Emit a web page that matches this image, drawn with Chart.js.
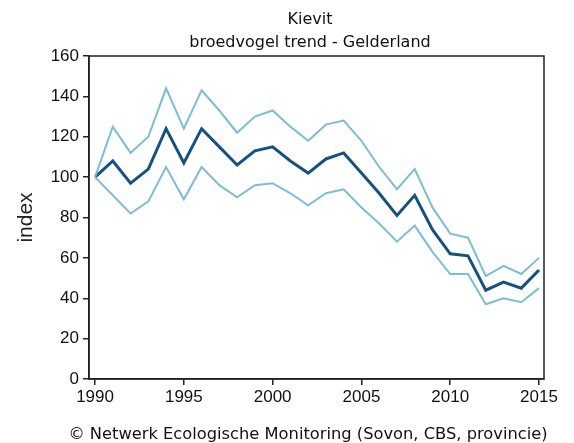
<!DOCTYPE html>
<html>
<head>
<meta charset="utf-8">
<script src="https://cdn.jsdelivr.net/npm/chart.js@4/dist/chart.umd.min.js"></script>
<style>
  html, body { margin: 0; padding: 0; background: #ffffff; }
  #wrap { width: 574px; height: 443px; }
</style>
</head>
<body>
<div id="wrap"><canvas id="c" width="574" height="443"></canvas></div>
<script>
// Kievit (lapwing) breeding index, Gelderland, 1990 = 100
const years = [1990, 1991, 1992, 1993, 1994, 1995, 1996, 1997, 1998, 1999, 2000, 2001, 2002,
               2003, 2004, 2005, 2006, 2007, 2008, 2009, 2010, 2011, 2012, 2013, 2014, 2015];
const trendIndex = [100, 108, 97, 104, 124, 107, 124, 115, 106, 113, 115, 108, 102,
                    109, 112, 102, 92, 81, 91, 74, 62, 61, 44, 48, 45, 54];
const upperBound = [100, 125, 112, 120, 144, 124, 143, 133, 122, 130, 133, 125, 118,
                    126, 128, 118, 105, 94, 104, 85, 72, 70, 51, 56, 52, 60];
const lowerBound = [100, 91, 82, 88, 105, 89, 105, 96, 90, 96, 97, 92, 86,
                    92, 94, 85, 77, 68, 76, 63, 52, 52, 37, 40, 38, 45];
const xTicks = [1990, 1995, 2000, 2005, 2010, 2015];
const yTicks = [0, 20, 40, 60, 80, 100, 120, 140, 160];
const titleLines = ['Kievit', 'broedvogel trend - Gelderland'];
const footerText = '\u00A9 Netwerk Ecologische Monitoring (Sovon, CBS, provincie)';

const pts = arr => years.map((yr, i) => ({ x: yr, y: arr[i] }));

const LIGHT = '#7dbcd6';
const DARK = '#14527f';
const AXIS = '#222222';

// Frame around the plot area plus title and credit line
const decorations = {
  id: 'decorations',
  afterDraw(chart) {
    const { ctx, chartArea: a } = chart;
    ctx.save();
    ctx.strokeStyle = AXIS;
    ctx.lineWidth = 1.5;
    ctx.strokeRect(a.left, a.top, a.right - a.left, a.bottom - a.top);
    ctx.fillStyle = '#111111';
    ctx.textAlign = 'center';
    ctx.textBaseline = 'alphabetic';
    ctx.font = '16px "DejaVu Sans"';
    ctx.fillText(titleLines[0], 310, 24);
    ctx.fillText(titleLines[1], 310, 47);
    ctx.font = '16.3px "DejaVu Sans"';
    ctx.fillText(footerText, 308, 439);
    ctx.restore();
  }
};

new Chart(document.getElementById('c'), {
  type: 'line',
  data: {
    datasets: [
      { data: pts(upperBound), borderColor: LIGHT, borderWidth: 2 },
      { data: pts(lowerBound), borderColor: LIGHT, borderWidth: 2 },
      { data: pts(trendIndex), borderColor: DARK, borderWidth: 3 }
    ]
  },
  options: {
    responsive: false,
    animation: false,
    devicePixelRatio: 1,
    layout: { padding: { top: 56, right: 30, left: 0, bottom: 0 } },
    elements: {
      point: { radius: 0, hoverRadius: 0 },
      line: { tension: 0, fill: false, borderJoinStyle: 'miter' }
    },
    plugins: {
      legend: { display: false },
      tooltip: { enabled: false },
      title: { display: false }
    },
    scales: {
      x: {
        type: 'linear',
        min: 1989.66,
        max: 2015.28,
        afterBuildTicks: s => { s.ticks = xTicks.map(v => ({ value: v })); },
        afterFit: s => { s.height = 64; },
        grid: { display: true, drawOnChartArea: false, drawTicks: true, tickLength: 6, color: AXIS, lineWidth: 1.5 },
        border: { display: true, color: AXIS, width: 1.5 },
        ticks: {
          color: '#111111',
          font: { family: '"Liberation Sans", Arial, sans-serif', size: 17 },
          padding: 2,
          maxRotation: 0,
          callback: v => String(v)
        }
      },
      y: {
        type: 'linear',
        min: 0,
        max: 160,
        afterBuildTicks: s => { s.ticks = yTicks.map(v => ({ value: v })); },
        afterFit: s => { s.width = 89; },
        grid: { display: true, drawOnChartArea: false, drawTicks: true, tickLength: 6, color: AXIS, lineWidth: 1.5 },
        border: { display: true, color: AXIS, width: 1.5 },
        ticks: {
          color: '#111111',
          font: { family: '"Liberation Sans", Arial, sans-serif', size: 17 },
          padding: 4
        },
        title: {
          display: true,
          text: 'index',
          color: '#222222',
          font: { family: '"Liberation Sans", Arial, sans-serif', size: 21 },
          padding: { top: 14, bottom: 0 }
        }
      }
    }
  },
  plugins: [decorations]
});
</script>
</body>
</html>
